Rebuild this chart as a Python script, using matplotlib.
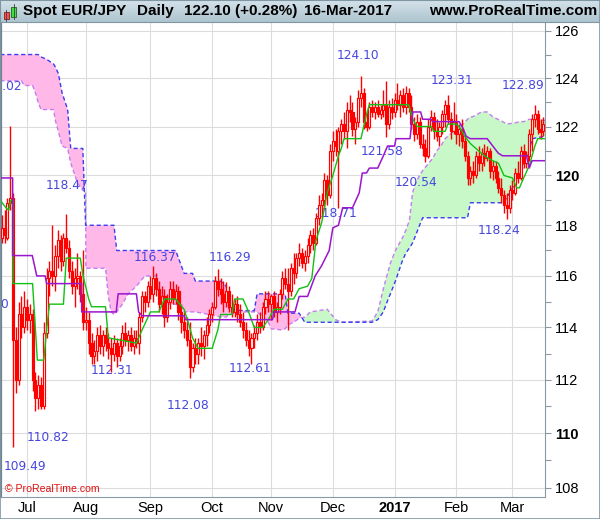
import numpy as np
import matplotlib
matplotlib.use("Agg")
import matplotlib.pyplot as plt
from matplotlib.patches import Rectangle
from matplotlib.ticker import FixedLocator, NullFormatter

# Spot EUR/JPY daily candles, 20-Jun-2016 .. 16-Mar-2017 (one line per week)
opens = [117.5, 117.9, 117.5, 118.9, 119.1,
         113.5, 112.0, 114.5, 114.0, 114.8,
         114.3, 114.5, 112.0, 111.3, 111.8,
         111.0, 113.8, 115.9, 116.2, 116.0,
         116.8, 117.4, 116.6, 117.5, 117.1,
         116.2, 115.6, 115.9, 116.0, 115.3,
         114.2, 114.3, 113.4, 112.9, 113.1,
         113.7, 113.3, 113.7, 113.4, 113.2,
         113.0, 113.4, 112.9, 113.3, 113.8,
         113.5, 113.7, 113.3, 113.6, 113.4,
         114.4, 115.2, 115.0, 115.6, 115.3,
         115.9, 115.5, 114.9, 115.2, 114.4,
         115.0, 115.5, 115.1, 115.4, 114.6,
         114.2, 113.9, 113.5, 112.5, 113.2,
         113.0, 113.4, 113.3, 113.7, 114.1,
         114.5, 114.8, 115.8, 115.5, 115.3,
         115.0, 115.4, 114.8, 114.6, 114.9,
         114.5, 114.2, 113.9, 113.5, 113.2,
         113.6, 113.8, 114.2, 114.0, 114.8,
         115.1, 114.9, 115.2, 114.6, 114.8,
         115.3, 115.9, 115.7, 115.4, 116.3,
         116.1, 116.7, 116.9, 116.5, 116.8,
         117.2, 117.6, 117.3, 118.3, 118.8,
         119.0, 119.8, 119.2, 121.0, 121.4,
         121.0, 121.8, 122.1, 121.8, 122.7,
         122.6, 121.9, 122.2, 123.2, 123.4,
         122.2, 122.0, 122.8, 122.6, 122.8,
         122.5, 122.7, 122.9, 122.1, 122.8,
         122.6, 123.1, 122.9, 123.3, 122.8,
         123.4, 122.8, 122.1, 121.7, 122.2,
         121.3, 121.1, 120.8, 122.0, 122.4,
         121.8, 121.6, 122.0, 122.5, 122.9,
         122.3, 121.8, 122.2, 121.7, 121.9,
         121.4, 120.8, 119.9, 120.2, 120.0,
         120.8, 120.5, 120.9, 120.7, 121.0,
         120.2, 120.4, 119.9, 119.5, 119.2,
         118.8, 118.7, 119.4, 119.3, 120.1,
         119.9, 121.0, 120.5, 120.8, 121.7,
         122.3, 122.5, 121.9, 121.8]
highs = [118.4, 118.6, 119.1, 122.02, 119.3,
         114.0, 115.0, 115.2, 115.4, 115.1,
         114.9, 114.7, 112.3, 112.2, 112.1,
         114.2, 116.3, 116.6, 118.0, 117.2,
         117.8, 117.6, 117.7, 118.47, 117.4,
         116.6, 116.3, 116.9, 116.2, 117.0,
         114.8, 114.6, 113.8, 113.5, 114.0,
         114.1, 113.9, 114.0, 113.8, 113.6,
         113.7, 113.6, 113.6, 114.1, 114.2,
         113.9, 114.0, 113.9, 113.9, 114.6,
         115.4, 115.4, 115.8, 116.0, 116.37,
         116.1, 115.8, 115.6, 115.5, 115.3,
         115.8, 115.8, 115.7, 115.6, 114.9,
         114.6, 114.4, 114.2, 113.4, 113.6,
         113.6, 114.0, 113.9, 114.4, 114.7,
         115.0, 116.0, 116.29, 115.9, 115.8,
         115.75, 115.6, 115.3, 115.1, 115.2,
         114.9, 114.6, 114.2, 113.9, 113.8,
         114.1, 114.5, 114.6, 115.0, 115.4,
         115.4, 115.3, 115.4, 115.0, 115.5,
         116.2, 116.3, 116.3, 116.5, 116.9,
         116.9, 117.3, 117.1, 117.0, 117.5,
         117.8, 117.9, 118.5, 119.2, 119.3,
         120.1, 120.0, 121.3, 121.8, 121.9,
         122.0, 122.3, 122.6, 123.0, 123.3,
         123.0, 122.4, 123.5, 124.10, 123.6,
         122.6, 123.0, 123.1, 123.0, 123.1,
         122.9, 123.5, 123.9, 123.1, 123.2,
         123.4, 123.8, 123.5, 123.6, 123.7,
         123.6, 123.3, 122.4, 122.5, 122.4,
         121.7, 121.5, 122.3, 122.7, 122.6,
         122.3, 122.2, 122.7, 123.1, 123.31,
         122.6, 123.0, 122.5, 122.1, 122.3,
         121.6, 121.0, 120.4, 120.6, 121.0,
         121.2, 121.1, 121.3, 121.2, 121.1,
         120.6, 120.6, 120.2, 119.9, 119.4,
         119.3, 119.6, 119.8, 120.3, 120.6,
         121.2, 121.3, 121.0, 121.9, 122.5,
         122.89, 122.7, 122.3, 122.4]
lows = [117.3, 117.3, 117.4, 118.6, 109.49,
        111.5, 111.8, 113.6, 113.8, 113.9,
        113.8, 111.6, 110.82, 110.9, 110.9,
        110.9, 113.6, 115.2, 115.6, 115.4,
        116.3, 116.2, 116.4, 116.9, 115.9,
        115.3, 114.8, 115.5, 115.0, 113.9,
        113.9, 113.0, 112.6, 112.6, 112.7,
        113.0, 112.9, 113.1, 112.8, 112.31,
        112.7, 112.5, 112.7, 113.0, 113.3,
        113.1, 113.1, 113.0, 113.2, 113.0,
        114.2, 114.6, 114.8, 115.1, 115.0,
        115.2, 114.6, 114.5, 114.0, 114.2,
        114.7, 114.9, 114.9, 114.3, 113.8,
        113.6, 113.3, 112.08, 112.3, 112.6,
        112.6, 112.9, 112.8, 113.3, 113.8,
        114.2, 114.7, 115.2, 114.9, 114.6,
        114.8, 114.6, 114.4, 114.4, 114.2,
        114.0, 113.6, 113.3, 112.9, 112.61,
        113.2, 113.5, 113.8, 113.9, 114.5,
        114.6, 114.3, 114.4, 114.2, 114.5,
        115.1, 115.5, 113.9, 115.2, 115.7,
        115.9, 116.4, 116.3, 116.2, 116.5,
        116.9, 117.0, 117.2, 118.0, 118.3,
        118.6, 118.8, 119.1, 120.6, 120.8,
        118.71, 121.3, 121.5, 121.1, 122.2,
        121.6, 121.3, 122.0, 122.8, 121.9,
        121.8, 121.9, 122.4, 122.3, 122.4,
        122.3, 122.4, 121.58, 121.9, 122.3,
        122.4, 122.7, 122.4, 122.6, 122.5,
        122.6, 121.9, 121.4, 121.5, 121.1,
        120.8, 120.54, 120.7, 121.8, 121.5,
        121.4, 121.2, 121.7, 122.0, 122.1,
        121.5, 121.7, 121.3, 121.2, 121.1,
        120.6, 119.6, 119.6, 119.7, 119.9,
        120.2, 120.2, 120.4, 120.6, 119.9,
        119.8, 119.7, 119.3, 118.9, 118.5,
        118.24, 118.5, 119.0, 119.2, 119.7,
        119.8, 120.3, 120.3, 120.6, 121.0,
        122.0, 121.7, 121.5, 121.6]
closes = [117.9, 117.6, 118.9, 119.1, 113.5,
          112.0, 114.5, 114.0, 114.8, 114.3,
          114.5, 112.0, 111.3, 111.8, 111.0,
          113.8, 115.9, 116.2, 116.0, 116.8,
          117.4, 116.6, 117.5, 117.1, 116.2,
          115.6, 115.9, 116.0, 115.3, 114.2,
          114.3, 113.4, 112.9, 113.1, 113.7,
          113.3, 113.7, 113.4, 113.2, 113.0,
          113.4, 112.9, 113.3, 113.8, 113.5,
          113.7, 113.3, 113.6, 113.4, 114.4,
          115.2, 115.0, 115.6, 115.3, 115.9,
          115.5, 114.9, 115.2, 114.4, 115.0,
          115.5, 115.1, 115.4, 114.6, 114.2,
          113.9, 113.5, 112.5, 113.2, 113.0,
          113.4, 113.3, 113.7, 114.1, 114.5,
          114.8, 115.8, 115.5, 115.3, 115.0,
          115.4, 114.8, 114.6, 114.9, 114.5,
          114.2, 113.9, 113.5, 113.2, 113.6,
          113.8, 114.2, 114.0, 114.8, 115.1,
          114.9, 115.2, 114.6, 114.8, 115.3,
          115.9, 115.7, 115.4, 116.3, 116.1,
          116.7, 116.9, 116.5, 116.8, 117.2,
          117.6, 117.3, 118.3, 118.8, 119.0,
          119.8, 119.2, 121.0, 121.4, 121.2,
          121.8, 122.1, 121.8, 122.7, 122.6,
          121.9, 122.2, 123.2, 123.4, 122.2,
          122.0, 122.8, 122.6, 122.8, 122.5,
          122.7, 122.9, 122.1, 122.8, 122.6,
          123.1, 122.9, 123.3, 122.8, 123.4,
          122.8, 122.1, 121.7, 122.2, 121.3,
          121.1, 120.8, 122.0, 122.4, 121.8,
          121.6, 122.0, 122.5, 122.9, 122.3,
          121.8, 122.2, 121.7, 121.9, 121.4,
          120.8, 119.9, 120.2, 120.0, 120.8,
          120.5, 120.9, 120.7, 121.0, 120.2,
          120.4, 119.9, 119.5, 119.2, 118.8,
          118.7, 119.4, 119.3, 120.1, 119.9,
          121.0, 120.5, 120.8, 121.7, 122.3,
          122.5, 121.9, 121.76, 122.10]

# Ichimoku lines, read as (bar index, value) points
tenkan_x = [-0.5, 1.5, 2.5, 3.2, 4, 4, 11, 12.7, 15, 16, 17, 22, 23, 28, 29, 31, 32, 37, 38, 48,
            50, 53, 56, 58, 62, 65, 67, 68, 70, 75, 77, 78, 82, 83, 86, 88, 90, 93, 95, 97,
            100, 102, 104, 106, 109, 110.5, 112, 114, 116, 118, 120, 121, 122, 128, 130, 131,
            145, 146.5, 148, 153, 154, 158, 159, 162, 163, 165, 167, 170, 172, 175, 177, 179,
            182, 183.5, 184.5, 186, 188, 190, 191, 193.6]
tenkan = [119.0, 118.7, 118.6, 119.0, 119.0, 115.7, 115.7, 112.75, 112.75, 113.9, 114.9, 114.9,
          116.7, 116.7, 116.0, 115.1, 114.8, 114.8, 113.6, 113.4,
          113.9, 114.6, 114.6, 115.1, 115.1, 114.7, 114.0, 113.6, 113.2, 113.2, 113.9, 114.5,
          114.5, 115.1, 115.1, 114.6, 114.0, 114.0, 114.3, 114.7,
          114.7, 115.1, 115.1, 115.5, 115.6, 115.9, 117.4, 118.1, 119.3, 120.0, 120.8, 121.1,
          121.5, 121.5, 122.5, 122.9,
          122.9, 122.3, 122.0, 122.0, 121.8, 121.8, 122.1, 122.1, 122.0, 121.6, 121.3, 121.0,
          120.8, 120.6, 120.5, 120.0,
          119.9, 119.5, 119.5, 119.9, 120.4, 121.2, 121.5, 121.5]

kijun_x = [-0.5, 3.9, 3.9, 10.9, 12.5, 15.5, 16, 28.5, 28.5, 40.8, 41.5, 48, 48.8, 50, 65, 65.5,
           96.5, 97, 104.5, 106, 109, 111.7, 114, 116.7, 118, 120, 121.5, 125, 127.4, 128.5,
           130, 131, 134, 136, 137.5, 140, 140.5, 145.5, 146.5, 149.3, 150, 153, 153.5, 163,
           164.5, 165.5, 167, 173, 175, 177, 178.5, 187, 188, 189, 193.6]
kijun = [119.9, 119.9, 116.8, 116.8, 116.0, 116.0, 115.7, 115.7, 114.6, 114.6, 115.3, 115.3,
         114.6, 114.45, 114.45, 114.3,
         114.3, 114.6, 114.6, 115.2, 115.2, 116.0, 116.4, 117.0, 117.9, 118.0, 118.7, 118.7,
         119.3, 120.1,
         120.1, 120.3, 120.3, 120.8, 121.2, 121.2, 121.5, 121.5, 122.6, 122.6, 122.3, 122.3,
         122.2, 122.2,
         121.9, 121.6, 121.5, 121.5, 121.2, 120.9, 120.8, 120.8, 120.3, 120.6, 120.6]

cloud_x = [-0.5, 7, 8, 11, 12, 13, 14, 16, 18.5, 19, 20.2, 21.5, 23.5, 24.6, 27, 28.9, 29.9, 30,
           37, 38, 39, 40, 41, 43, 45, 48, 51, 55, 56, 58, 62, 64, 65, 68, 69, 74, 78, 80, 81,
           86, 90, 91, 93, 95, 96, 100, 101, 102, 104, 106, 108, 110, 116, 119, 121, 132, 134,
           136, 137, 138.5, 140.3, 142.8, 144, 145.3, 146.4, 147.5, 148.9, 150, 153.6, 155,
           156.5, 158, 160, 162, 164.3, 166, 167, 167.8, 171, 173, 175, 178.5, 180, 183,
           184.5, 186, 188, 189, 193.6]
span_a = [123.9, 123.9, 123.7, 123.7, 123.4, 123.0, 122.7, 122.7, 122.7, 122.3, 121.8, 121.2,
          121.1, 120.5, 119.7, 119.4, 119.4, 116.3,
          116.3, 115.2, 114.6, 114.5, 114.6, 114.9, 115.3, 115.6, 116.0, 116.0, 115.2, 114.9,
          114.9, 114.8, 114.6, 114.6, 114.6, 114.5, 114.4, 114.4, 114.5,
          114.6, 114.6, 114.6, 114.4, 114.2, 113.95, 113.9, 113.95, 114.1, 114.2, 114.35,
          114.4, 114.6, 114.7, 114.3, 114.2, 114.25, 114.6,
          115.5, 115.9, 116.5, 117.0, 117.5, 117.8, 118.2, 119.3, 119.7, 120.0, 120.2, 120.7,
          121.0, 121.2, 121.5, 121.7, 121.9, 122.1, 122.3, 122.4, 122.4, 122.6, 122.6, 122.4,
          122.2, 122.1, 122.15, 122.2, 122.2, 122.3, 122.3, 122.25]
span_b = [125.0, 125.0, 125.0, 125.0, 125.0, 125.0, 124.9, 124.8, 124.6, 124.5, 124.2, 123.4,
          122.7, 121.1, 121.1, 121.1, 118.0, 118.0,
          118.0, 118.0, 118.0, 118.0, 117.0, 117.0, 117.0, 117.0, 117.0, 117.0, 117.0, 117.0,
          117.0, 116.4, 116.1, 116.1, 115.8, 115.8, 115.8, 115.6, 114.7,
          114.65, 114.65, 115.3, 115.3, 115.3, 115.3, 115.3, 115.3, 114.55, 114.55, 114.55,
          114.2, 114.2, 114.2, 114.2, 114.2, 114.2, 114.3,
          114.6, 114.9, 115.3, 115.8, 116.6, 116.9, 117.1, 117.3, 117.6, 118.0, 118.3, 118.3,
          118.3, 118.3, 118.3, 118.3, 118.3, 118.3, 118.3, 118.9, 118.9, 118.9, 118.9, 118.9,
          118.9, 119.1, 119.7, 120.0, 120.4, 121.0, 121.5, 121.6]

# high / low captions shown on the chart
label_text = ["124.10", "123.31", "122.89", "121.58", "120.54", "118.71", "118.24", "118.47",
              "116.37", "116.29", "112.61", "112.31", "112.08", "110.82", "109.49", "122.02"]
label_x = [126.8, 160.3, 185.6, 135.7, 147.8, 119.0, 177.4, 23.3,
           54.6, 81.3, 88.4, 39.3, 66.3, 16.5, 8.3, -0.4]
label_y = [124.98, 123.93, 123.72, 120.96, 119.70, 118.49, 117.81, 119.58,
           116.71, 116.71, 112.45, 112.37, 111.05, 109.86, 108.79, 123.64]

month_idx = [9, 30, 53, 75, 96, 118, 140, 162, 182]
month_lbl = ["Jul", "Aug", "Sep", "Oct", "Nov", "Dec", "2017", "Feb", "Mar"]
price_ticks = [108, 110, 112, 114, 116, 118, 120, 122, 124, 126]
price_minor = [109, 111, 113, 115, 117, 119, 121, 123, 125]

RED = "#ff0000"
W, H = 600, 519


def fx(px):
    return px / W


def fy(py):
    return 1 - py / H


fig = plt.figure(figsize=(6.0, 5.19), dpi=100)
fig.patch.set_facecolor("white")

ax = fig.add_axes([fx(1), fy(497), fx(545) - fx(1), fy(22) - fy(497)])
ax.set_yscale("log")
ax.set_xlim(-0.25, 193.6)
ax.set_ylim(107.66, 126.38)

# cloud
cx = np.array(cloud_x)
sa = np.array(span_a)
sb = np.array(span_b)
ax.fill_between(cx, sa, sb, where=sb >= sa, interpolate=True, color="#ffb8e8", lw=0, zorder=1)
ax.fill_between(cx, sa, sb, where=sa >= sb, interpolate=True, color="#c8f8c8", lw=0, zorder=1)
ax.plot(cx, sa, color="#c47ef0", lw=1.0, ls=(0, (3, 2)), zorder=1.6)
ax.plot(cx, sb, color="#3c3cf0", lw=1.0, ls=(0, (3, 2)), zorder=1.6)

# captions (drawn below the candles)
for t, lx, ly in zip(label_text, label_x, label_y):
    ax.text(lx, ly, t, color="#4646dc", fontsize=8.8, family="DejaVu Sans",
            ha="center", va="center", zorder=2, clip_on=True)
ax.text(2.6, 114.87, "115.20", color="#4646dc", fontsize=8.8, family="DejaVu Sans",
        ha="right", va="center", zorder=2, clip_on=True)

# candles
x = np.arange(len(closes))
o = np.array(opens)
hi = np.array(highs)
lo = np.array(lows)
c = np.array(closes)
up = c >= o
ax.vlines(x, lo, hi, color=RED, lw=1.0, zorder=3)
ax.bar(x[up], c[up] - o[up], bottom=o[up], width=0.74, facecolor="white",
       edgecolor=RED, lw=0.85, zorder=3.2)
ax.bar(x[~up], o[~up] - c[~up], bottom=c[~up], width=0.74, facecolor=RED,
       edgecolor=RED, lw=0.85, zorder=3.2)

# tenkan / kijun
ax.plot(tenkan_x, tenkan, color="#12c012", lw=1.0, zorder=4)
ax.plot(kijun_x, kijun, color="#9b14d0", lw=1.1, zorder=4)

# axes styling
ax.set_axisbelow(True)
ax.yaxis.tick_right()
ax.yaxis.set_major_locator(FixedLocator(price_ticks))
ax.yaxis.set_minor_locator(FixedLocator(price_minor))
ax.yaxis.set_minor_formatter(NullFormatter())
ax.set_yticklabels([str(v) for v in price_ticks])
for lab, v in zip(ax.get_yticklabels(), price_ticks):
    lab.set_family("Liberation Sans")
    if v in (110, 120):
        lab.set_fontweight("bold")
ax.tick_params(axis="y", which="both", direction="out", length=4, width=0.8,
               color="#8a9aa4", pad=3, labelsize=10.5)
ax.set_xticks(month_idx)
ax.set_xticklabels(month_lbl, family="Liberation Sans", fontsize=10.5)
ax.get_xticklabels()[6].set_fontweight("bold")
ax.tick_params(axis="x", length=0, pad=3)
ax.grid(True, which="major", color="#dcdcdc", lw=0.8)
ax.spines["top"].set_visible(False)
ax.spines["right"].set_color("#8a9aa4")
ax.spines["bottom"].set_color("#8a9aa4")
ax.spines["left"].set_color("#6f8491")
ax.spines["left"].set_linewidth(1.6)

# title bar
tb = fig.add_axes([0, fy(22), 1, fy(0) - fy(22)])
grad = np.linspace(0, 1, 32).reshape(-1, 1)
tb.imshow(grad, aspect="auto", cmap=matplotlib.colors.LinearSegmentedColormap.from_list(
    "bar", ["#d4e2ea", "#aec4cf"]), extent=[0, 1, 0, 1])
tb.set_xlim(0, 1)
tb.set_ylim(0, 1)
tb.set_xticks([])
tb.set_yticks([])
for s in tb.spines.values():
    s.set_color("#7f97a3")

ty = fy(11)
tkw = dict(fontsize=11, fontweight="bold", family="Liberation Sans", va="center", color="black")
fig.text(fx(23), ty, "Spot EUR/JPY", **tkw)
fig.text(fx(137), ty, "Daily", **tkw)
fig.text(fx(184), ty, "122.10 (+0.28%)", **tkw)
fig.text(fx(304), ty, "16-Mar-2017", **tkw)
fig.text(fx(597), ty, "www.ProRealTime.com", ha="right", **tkw)

# little candle icon
fig.add_artist(Rectangle((fx(3.5), fy(19)), fx(5), fy(12) - fy(19), facecolor="#ff5050",
                         edgecolor="#802020", lw=0.6))
fig.add_artist(Rectangle((fx(11), fy(17)), fx(5), fy(7) - fy(17), facecolor="#40e040",
                         edgecolor="#206020", lw=0.6))
fig.add_artist(plt.Line2D([fx(6), fx(6)], [fy(21), fy(10)], color="#404040", lw=0.6))
fig.add_artist(plt.Line2D([fx(13.5), fx(13.5)], [fy(19), fy(4)], color="#404040", lw=0.6))

fig.text(fx(5), fy(489), "\u00a9 ProRealTime.com", color="#e01010", fontsize=7.6,
         family="Liberation Sans", va="center")

fig.add_artist(Rectangle((0, 0), 1, 1, transform=fig.transFigure, fill=False,
                         edgecolor="#7f97a3", lw=1.2))

fig.savefig("out.png", dpi=100)
